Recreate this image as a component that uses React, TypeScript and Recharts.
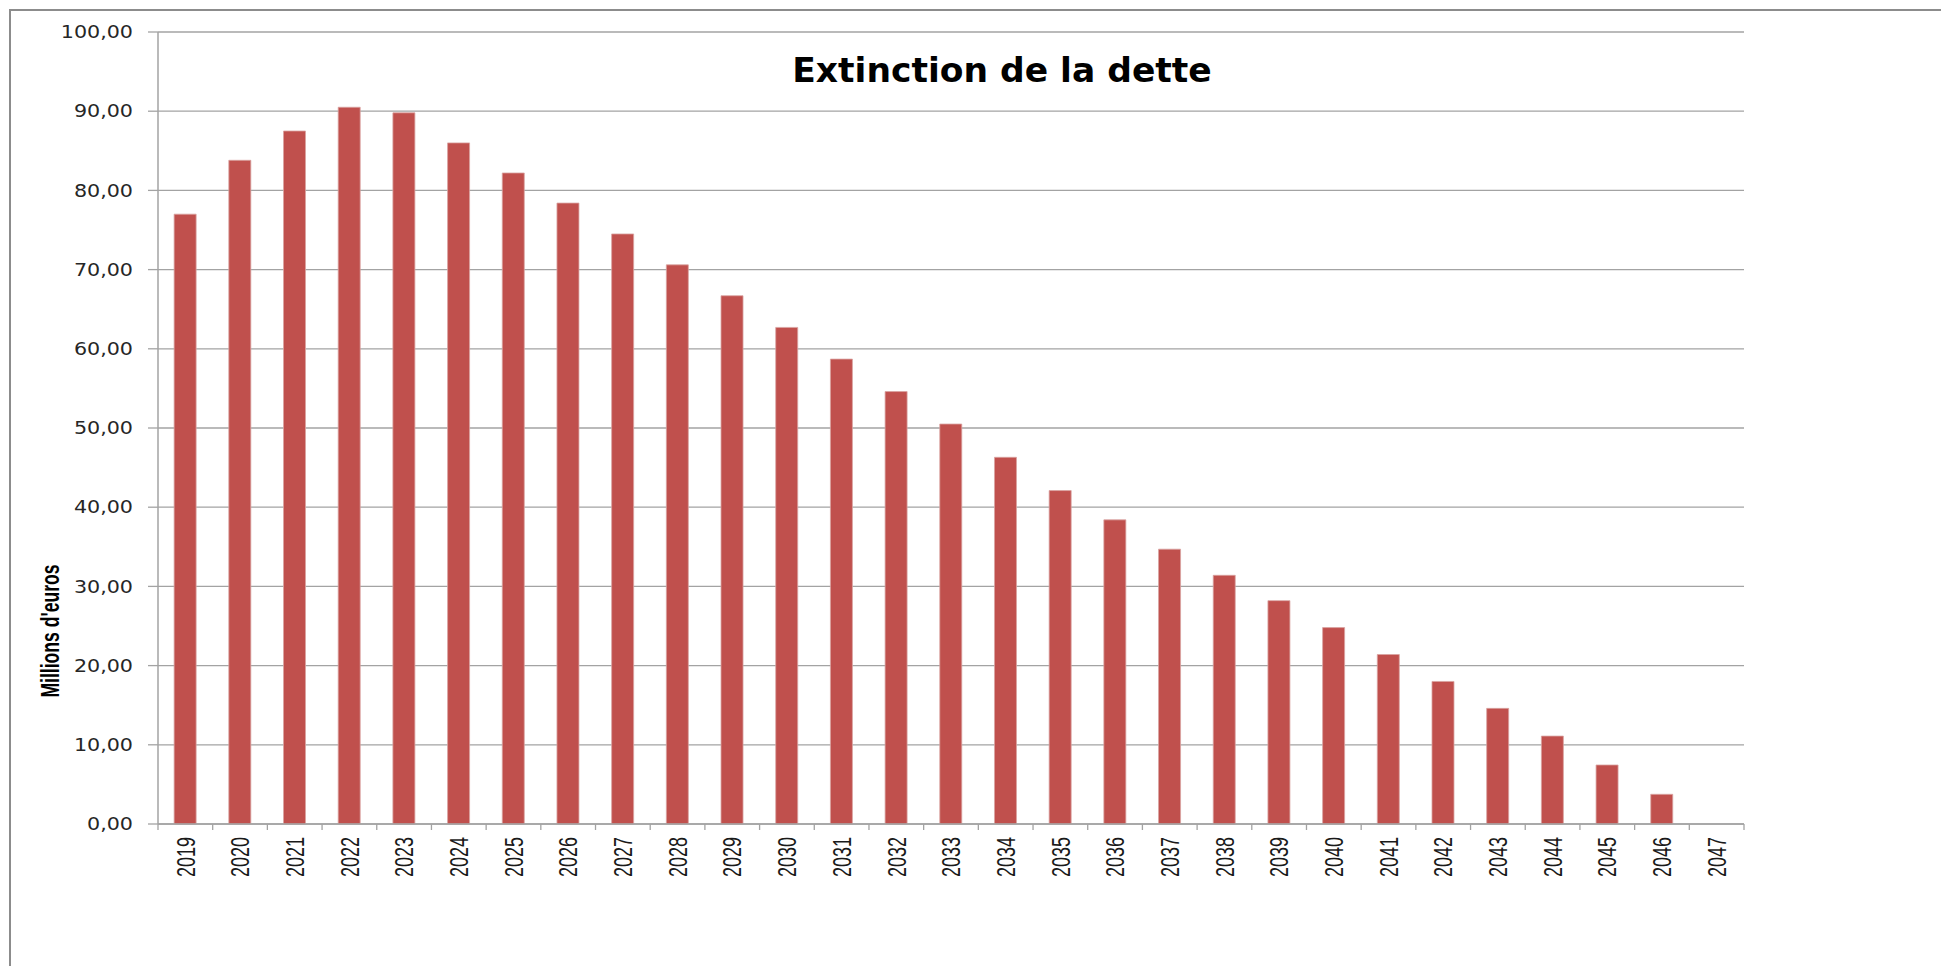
import React from 'react';
import { BarChart, Bar, XAxis, YAxis, CartesianGrid, Label } from 'recharts';

const years = ['2019', '2020', '2021', '2022', '2023', '2024', '2025', '2026', '2027', '2028', '2029', '2030', '2031', '2032', '2033', '2034', '2035', '2036', '2037', '2038', '2039', '2040', '2041', '2042', '2043', '2044', '2045', '2046', '2047'];
const debt = [77.0, 83.8, 87.5, 90.5, 89.8, 86.0, 82.2, 78.4, 74.5, 70.6, 66.7, 62.7, 58.7, 54.6, 50.5, 46.3, 42.1, 38.4, 34.7, 31.4, 28.2, 24.8, 21.4, 18.0, 14.6, 11.1, 7.45, 3.75, 0];
const yTicks = [0, 10, 20, 30, 40, 50, 60, 70, 80, 90, 100];
const title = 'Extinction de la dette';
const yTitle = "Millions d'euros";

const data = years.map((year, i) => ({ year, value: debt[i] }));

const GRID = '#a3a3a3';
const CHART_W = 1941;
const CHART_H = 966;
const MARGIN = { top: 32, right: 197, bottom: 0, left: 0 };
const Y_AXIS_W = 158;
const X_MARGIN = 13;

const XTick = (props: any) => {
  const { x, y, payload, index, visibleTicksCount, width } = props;
  const plotW = typeof width === 'number' && width > 0 ? width : CHART_W - MARGIN.right - MARGIN.left - Y_AXIS_W;
  const count = visibleTicksCount || years.length;
  const half = plotW / count / 2;
  const axisY = y - X_MARGIN;
  const isLast = index === count - 1;
  return (
    <g>
      <line x1={x - half} x2={x - half} y1={axisY} y2={axisY + 6} stroke={GRID} strokeWidth={1.3} />
      {isLast && <line x1={x + half} x2={x + half} y1={axisY} y2={axisY + 6} stroke={GRID} strokeWidth={1.3} />}
      <text
        transform={`translate(${x},${y}) rotate(-90) scale(0.9,1.28)`}
        x={0}
        y={7.2}
        textAnchor="end"
        fontFamily="Liberation Sans, Arial, sans-serif"
        fontSize={20}
        fill="#1a1a1a"
      >
        {payload.value}
      </text>
    </g>
  );
};

const YTick = (props: any) => {
  const { x, y, payload } = props;
  const label = Number(payload.value).toFixed(2).replace('.', ',');
  return (
    <text
      transform={`translate(${x},${y + 6.2}) scale(1.18,1)`}
      x={0}
      y={0}
      textAnchor="end"
      fontFamily="DejaVu Sans, sans-serif"
      fontSize={17.5}
      fill="#262626"
    >
      {label}
    </text>
  );
};

const YLabel = () => (
  <text
    transform="translate(59,631) rotate(-90) scale(0.88,1.28)"
    x={0}
    y={0}
    textAnchor="middle"
    fontFamily="Liberation Sans, Arial, sans-serif"
    fontWeight="bold"
    fontSize={20}
    fill="#000"
  >
    {yTitle}
  </text>
);

export default function App() {
  return (
    <div style={{ position: 'absolute', left: 0, top: 0, width: CHART_W, height: CHART_H, overflow: 'hidden', background: '#fff' }}>
      <div
        style={{
          position: 'absolute',
          left: 9,
          top: 9,
          width: 2200,
          height: 1200,
          borderLeft: '2px solid #8c8c8c',
          borderTop: '2px solid #8c8c8c',
        }}
      />
      <BarChart
        width={CHART_W}
        height={CHART_H}
        data={data}
        margin={MARGIN}
        barCategoryGap="29.5%"
      >
        <CartesianGrid vertical={false} stroke={GRID} strokeWidth={1.3} />
        <XAxis
          dataKey="year"
          interval={0}
          height={142}
          axisLine={{ stroke: GRID, strokeWidth: 1.5 }}
          tickLine={false}
          tickSize={0}
          tickMargin={X_MARGIN}
          tick={<XTick />}
        />
        <YAxis
          domain={[0, 100]}
          ticks={yTicks}
          interval={0}
          width={Y_AXIS_W}
          axisLine={{ stroke: GRID, strokeWidth: 1.5 }}
          tickLine={{ stroke: GRID, strokeWidth: 1.3 }}
          tickSize={10}
          tickMargin={15}
          tick={<YTick />}
        >
          <Label content={() => <YLabel />} />
        </YAxis>
        <Bar dataKey="value" fill="#C0504D" stroke="#D9A3A1" strokeWidth={0.8} isAnimationActive={false} />
      </BarChart>
      <svg
        width={CHART_W}
        height={CHART_H}
        style={{ position: 'absolute', left: 0, top: 0, pointerEvents: 'none' }}
      >
        <text
          x={1002}
          y={82}
          textAnchor="middle"
          fontFamily="DejaVu Sans, sans-serif"
          fontWeight="bold"
          fontSize={34.5}
          fill="#000"
        >
          {title}
        </text>
      </svg>
    </div>
  );
}
